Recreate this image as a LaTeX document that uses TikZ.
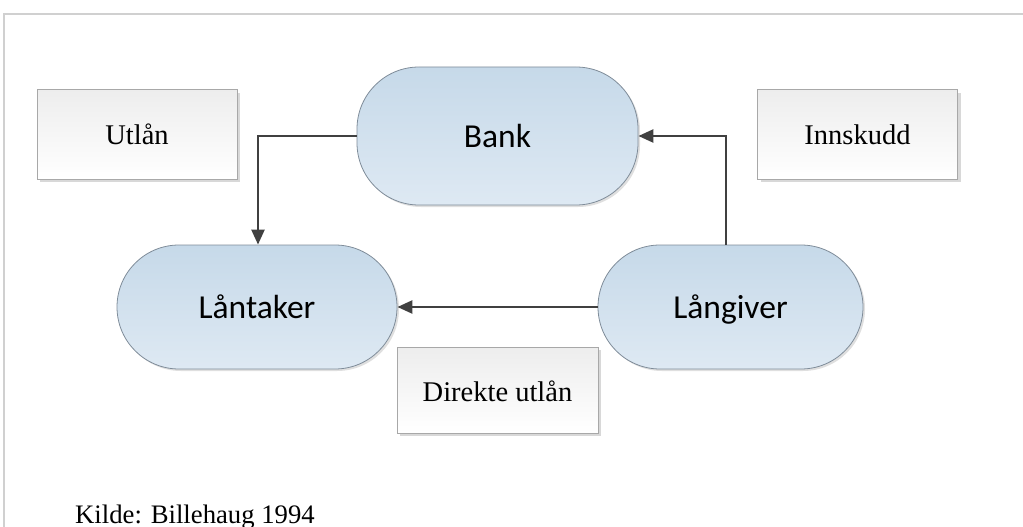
\documentclass[tikz,border=0pt]{standalone}
\usepackage{fontspec}
\setmainfont{Liberation Serif}
\newfontfamily\calfont{Carlito}
\usetikzlibrary{arrows.meta,shadows}
\definecolor{termtop}{HTML}{C6D9E9}
\definecolor{termbot}{HTML}{DEE9F3}
\definecolor{termline}{HTML}{7F8C99}
\definecolor{boxline}{HTML}{A8A8A8}
\definecolor{arrowcol}{HTML}{404040}
\definecolor{framecol}{HTML}{D0D0D0}
\tikzset{
  term/.style={rectangle, rounded corners=62pt, draw=termline, line width=0.8pt,
    top color=termtop, bottom color=termbot, font=\calfont\fontsize{33.5}{36}\selectfont,
    text height=25pt, text depth=3pt,
    drop shadow={shadow xshift=2pt, shadow yshift=-2pt, fill=black!25}},
  labelbox/.style={rectangle, draw=boxline, line width=1pt, top color=black!7, bottom color=white,
    minimum width=200pt, minimum height=89pt, font=\fontsize{28.5}{30}\selectfont,
    text height=21pt, text depth=1pt,
    drop shadow={shadow xshift=3pt, shadow yshift=-3pt, fill=black!30}},
  conn/.style={draw=arrowcol, line width=2.4pt, -{Triangle[length=15pt,width=13pt]}},
}
\begin{document}
\begin{tikzpicture}[x=1pt,y=-1pt]
\useasboundingbox (0,0) rectangle (1023,527);
\draw[framecol, line width=1.5pt] (4,527) -- (4,14) -- (1023,14);
\node[term, minimum width=281pt, minimum height=138pt] (bank) at (497.5,136) {Bank};
\node[term, minimum width=280pt, minimum height=124pt] (lan) at (257,307) {Låntaker};
\node[term, minimum width=265pt, minimum height=124pt] (lang) at (730.5,307) {Långiver};
\node[labelbox] (utlan) at (137,134.5) {Utlån};
\node[labelbox] (innskudd) at (857.5,134.5) {Innskudd};
\node[labelbox, minimum width=201pt, minimum height=86pt, text height=23pt] (direkte) at (497.5,390) {Direkte utlån};
\coordinate (c1) at (258,136);
\coordinate (c2) at (726,136);
\draw[conn] (bank.west) -- (c1) -- (lan.north -| c1);
\draw[conn] (lang.north -| c2) -- (c2) -- (bank.east);
\draw[conn] (lang.west) -- (lan.east);
\node[anchor=base west, font=\fontsize{26.7}{28}\selectfont, inner sep=0pt] (kilde) at (75,523) {Kilde: Billehaug 1994};
\end{tikzpicture}
\end{document}
